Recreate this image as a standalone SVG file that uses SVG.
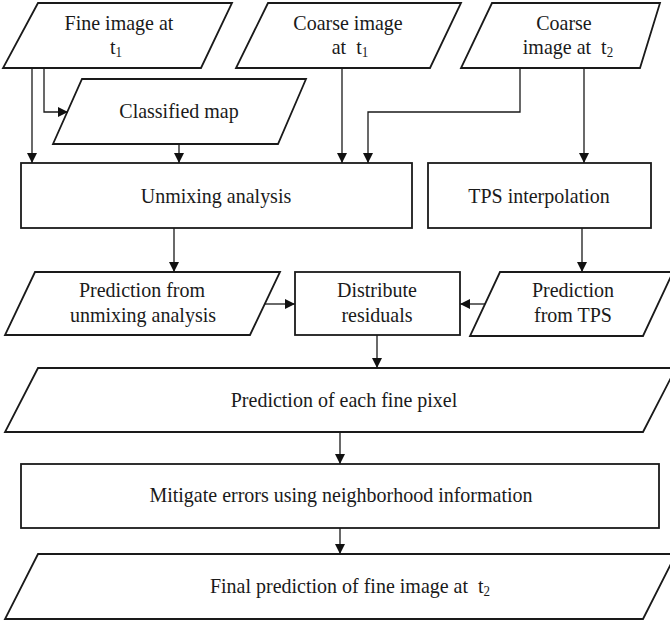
<svg xmlns="http://www.w3.org/2000/svg" width="670" height="622" viewBox="0 0 670 622">
<defs>
<marker id="ah" viewBox="0 0 10 10" refX="10" refY="5" markerWidth="10" markerHeight="10" markerUnits="userSpaceOnUse" orient="auto">
<path d="M0,0 L10,5 L0,10 Z" fill="#111"/>
</marker>
<style>
.box{fill:#fff;stroke:#1a1a1a;stroke-width:1.8}
.t{font-family:"Liberation Serif","Times New Roman",serif;font-size:20px;fill:#1a1a1a;text-anchor:middle}
.s{font-size:13px}
.c{fill:none;stroke:#1a1a1a;stroke-width:1.3}
</style>
</defs>
<rect width="670" height="622" fill="#fff"/>
<g id="fine_t1">
<polygon class="box" points="38,3 232,3 201,68 3,68"/>
<text class="t" x="119" y="0" transform="translate(0,29.5) scale(1,1.05)">Fine image at</text>
<text class="t" x="116" y="0" transform="translate(0,53.5) scale(1,1.05)">t<tspan class="s" dy="3">1</tspan></text>
</g>
<g id="coarse_t1">
<polygon class="box" points="268,3 461,3 430,68 236,68"/>
<text class="t" x="348" y="0" transform="translate(0,29.5) scale(1,1.05)">Coarse image</text>
<text class="t" x="350" y="0" transform="translate(0,53.5) scale(1,1.05)" xml:space="preserve">at  t<tspan class="s" dy="3">1</tspan></text>
</g>
<g id="coarse_t2">
<polygon class="box" points="492,3 660,3 640,68 461,68"/>
<text class="t" x="564" y="0" transform="translate(0,29.5) scale(1,1.05)">Coarse</text>
<text class="t" x="568" y="0" transform="translate(0,53.5) scale(1,1.05)" xml:space="preserve">image at  t<tspan class="s" dy="3">2</tspan></text>
</g>
<g id="classified">
<polygon class="box" points="82,79 306,79 278,144 53,144"/>
<text class="t" x="179" y="0" transform="translate(0,118) scale(1,1.1)">Classified map</text>
</g>
<g id="unmixing">
<rect class="box" x="21" y="163" width="391" height="65"/>
<text class="t" x="216" y="0" transform="translate(0,203) scale(1,1.1)">Unmixing analysis</text>
</g>
<g id="tps">
<rect class="box" x="428" y="163" width="223" height="65"/>
<text class="t" x="539" y="0" transform="translate(0,203) scale(1,1.1)">TPS interpolation</text>
</g>
<g id="pred_unmix">
<polygon class="box" points="35,272 280,272 250,335 5,335"/>
<text class="t" x="142" y="0" transform="translate(0,297) scale(1,1.05)">Prediction from</text>
<text class="t" x="143" y="0" transform="translate(0,322) scale(1,1.05)">unmixing analysis</text>
</g>
<g id="distribute">
<rect class="box" x="295" y="272" width="165" height="63"/>
<text class="t" x="377" y="0" transform="translate(0,297) scale(1,1.05)">Distribute</text>
<text class="t" x="377" y="0" transform="translate(0,322) scale(1,1.05)">residuals</text>
</g>
<g id="pred_tps">
<polygon class="box" points="500,272 673,272 643,336 470,336"/>
<text class="t" x="573" y="0" transform="translate(0,297) scale(1,1.05)">Prediction</text>
<text class="t" x="573" y="0" transform="translate(0,322) scale(1,1.05)">from TPS</text>
</g>
<g id="pred_each">
<polygon class="box" points="38,368 676,368 643,432 5,432"/>
<text class="t" x="344" y="0" transform="translate(0,407) scale(1,1.1)">Prediction of each fine pixel</text>
</g>
<g id="mitigate">
<rect class="box" x="21" y="464" width="638" height="64"/>
<text class="t" x="341" y="0" transform="translate(0,502) scale(1,1.1)">Mitigate errors using neighborhood information</text>
</g>
<g id="final">
<polygon class="box" points="38,554 676,554 643,619 5,619"/>
<text class="t" x="350" y="0" transform="translate(0,593) scale(1,1.1)" xml:space="preserve">Final prediction of fine image at  t<tspan class="s" dy="3">2</tspan></text>
</g>
<g id="connectors">
<path class="c" d="M32,68 V163" marker-end="url(#ah)"/>
<path class="c" d="M44,68 V112 H68" marker-end="url(#ah)"/>
<path class="c" d="M179,144 V163" marker-end="url(#ah)"/>
<path class="c" d="M342,68 V163" marker-end="url(#ah)"/>
<path class="c" d="M520,68 V112 H368 V163" marker-end="url(#ah)"/>
<path class="c" d="M584,68 V163" marker-end="url(#ah)"/>
<path class="c" d="M174,228 V272" marker-end="url(#ah)"/>
<path class="c" d="M582,228 V272" marker-end="url(#ah)"/>
<path class="c" d="M265,304 H295" marker-end="url(#ah)"/>
<path class="c" d="M485,304 H460" marker-end="url(#ah)"/>
<path class="c" d="M377,335 V368" marker-end="url(#ah)"/>
<path class="c" d="M340,432 V464" marker-end="url(#ah)"/>
<path class="c" d="M340,528 V554" marker-end="url(#ah)"/>
</g>
</svg>
